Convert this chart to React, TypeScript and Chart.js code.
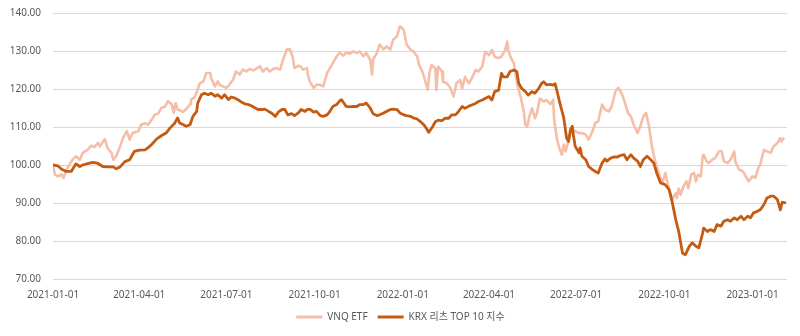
import React, { useEffect, useRef } from "react";
import { Chart, registerables } from "chart.js";

Chart.register(...registerables);

// Days since 2021-01-01
const vnqDays = [0,2,5,9,11,14,17,21,24,28,31,36,40,43,47,49,54,57,61,63,66,70,73,77,80,83,89,92,96,99,103,106,110,113,117,120,124,126,128,130,136,140,143,144,148,151,153,157,160,164,165,169,172,174,177,181,184,188,191,195,198,202,205,209,212,216,219,223,226,230,233,237,240,244,247,250,252,256,258,261,265,266,268,272,275,279,282,286,289,292,296,299,303,306,310,313,317,320,324,327,331,333,334,338,341,345,348,352,355,359,362,366,369,373,376,380,382,386,388,391,393,395,399,400,402,406,407,411,414,418,421,425,427,430,434,437,441,444,448,451,455,458,461,465,468,472,474,475,478,481,482,485,488,491,493,495,497,500,503,505,508,512,515,519,522,523,526,529,531,533,535,538,542,545,549,552,556,559,563,566,569,573,576,580,583,587,590,594,597,600,603,606,610,613,616,619,622,625,628,632,636,639,643,646,648,650,651,653,655,658,661,663,666,669,671,673,676,678,679,682,684,688,691,695,698,700,704,707,711,712,716,720,723,726,730,733,736,738,742,745,749,752,756,759,760,763];
const vnqValues = [99.6,97.5,97,97.5,96.6,98.8,100.1,101.6,102.3,101.4,103.2,104,105.1,104.7,105.8,104.9,106.8,104.4,103.2,101.4,102.3,104.9,107.1,108.9,106.7,108.4,108.9,110.6,111,110.6,111.9,113.2,113.6,115,115.4,116.8,115.9,113.7,116.3,114.6,114,115,116,117.2,117.9,119.8,121.4,122,124.2,124.2,122.9,120.7,122,121.1,120.7,120.3,121.1,122.5,124.6,123.8,125.1,124.6,125.3,124.9,125.3,126,124.6,125.5,124.6,125.3,125.5,125.1,127.7,130.4,130.5,128.6,125.5,126.1,126,125.1,125.5,123.8,122,120.3,121.1,121.1,120.7,124.2,125.5,126.8,128.6,129.5,128.8,129.6,129.3,129.9,129.5,129.9,128.6,129.5,127.7,123.8,127.7,129.5,131.7,130.4,131.2,130.4,133,133.9,136.5,135.6,131.7,130.4,129.9,128.6,126.4,124.2,122.5,119.8,124.5,126.3,125.4,119.7,125.9,124.6,121.9,121.5,120.6,118,121.5,122.4,120.2,123.2,121.5,122.8,125,124.6,125.9,129.8,128.9,130.3,128.5,128.1,128.5,130.3,132.5,130.3,128.1,126.8,125,120.6,118,114.5,110.5,110.1,112.7,114.9,112.3,113.6,117.5,116.7,117.1,116,117.2,111.9,106.7,104,102.7,105.4,103.6,106.7,109.3,108.9,108.4,108.4,108,106.7,108.9,111.1,111.5,115.9,114.6,114.1,115.4,119.4,120.3,118.5,116.3,113.7,112.8,110.6,108.4,110.2,112.8,113.7,110.2,104.9,101.4,97.9,95.3,97.9,93.5,90.9,91.8,92.6,91.3,93.8,92.2,94.4,95.7,93.9,97.5,97.9,95.7,97.5,97,102.3,102.7,101,100.5,101.4,101.8,103.6,103.6,101,100.5,101.4,103.6,101,98.8,98.3,97,95.7,97,96.6,99.2,100.1,104,103.6,103.2,104.9,105.8,107.1,106.2,107.2];

const krxDays = [0,5,9,14,19,20,24,28,31,38,42,47,52,57,63,66,70,75,80,85,90,96,99,103,108,113,118,122,127,130,132,136,139,143,146,150,151,155,158,162,165,169,172,176,179,183,186,190,193,197,200,204,207,211,214,218,221,225,228,232,235,239,242,245,249,252,256,259,263,265,268,272,275,279,282,286,289,292,296,299,301,303,306,310,313,317,320,324,327,331,334,338,341,345,348,352,355,359,362,366,369,373,376,380,383,387,390,392,396,399,402,406,409,413,416,420,423,427,430,434,437,441,444,448,451,455,458,461,465,468,470,474,477,481,484,486,489,493,496,500,503,507,510,512,515,519,522,524,526,529,533,536,538,540,542,543,545,549,550,552,556,559,563,566,569,573,576,578,582,585,589,592,596,599,603,606,610,613,616,620,623,627,630,634,639,643,646,650,653,657,660,664,667,671,674,678,679,683,686,690,693,697,700,704,707,711,714,718,721,725,728,731,735,738,742,745,749,752,756,759,761,765];
const krxValues = [100,99.8,98.9,98.3,98.3,98.7,100.3,99.6,100,100.5,100.7,100.4,99.6,99.5,99.5,99,99.5,100.9,101.4,103.6,103.9,104,104.5,105.4,106.8,107.7,108.4,109.7,111,112.4,111.1,110.6,110.2,110.6,112.8,114.1,116.3,118.5,118.9,118.5,118.9,118.1,118.5,117.6,118.5,117.2,117.9,117.6,117.2,116.5,116.1,115.9,115.6,115,114.6,114.6,114.7,114.1,113.7,112.8,113.9,114.6,114.6,113.2,113.5,113,113.7,114.6,114.1,114.6,114.7,113.9,114.1,113,112.8,113.2,114.1,115.4,115.9,116.8,117.2,116.5,115.4,115.3,115.4,115.4,115.9,115.9,116.3,115,113.5,113,113.2,113.7,114.1,114.6,114.7,114.6,113.7,113.2,113,112.8,112.4,112.1,111.5,110.6,109.5,108.6,110,111.4,111.8,111.7,112.3,112.3,113.2,113.2,114,115.4,114.9,115.5,115.8,116.2,116.7,117.1,117.5,118,117.1,119.3,119.7,124.1,123.2,123.2,124.6,125,124.6,121.5,120.2,119.3,118.4,119.3,118.9,120.2,121.5,121.9,121.1,121.2,121,121.4,119.4,116.3,112.4,107.1,106.2,109.3,110.2,108,104.9,103.2,104.5,102.3,101.4,99.6,98.8,98.3,97.9,100.5,101.6,101,101.8,102.1,102.1,102.5,102.7,101.4,102.7,101.8,101,99.6,101.4,102.3,101.6,100.5,97.9,95.3,94.8,93.5,90.5,85.5,82.5,76.8,76.4,78.6,79.5,78.6,78.2,82.1,83.4,82.5,83,82.5,84.3,83.9,85.2,85.6,85.2,86.1,85.6,86.5,85.6,86.5,86.1,87.4,87.8,88.2,89.6,91.3,91.8,91.8,90.9,88.2,90.2,90];

const xTickDays = [0, 90, 181, 273, 365, 455, 546, 638, 730];
const xTickLabels = ["2021-01-01","2021-04-01","2021-07-01","2021-10-01","2022-01-01","2022-04-01","2022-07-01","2022-10-01","2023-01-01"];

const seriesNames = ["VNQ ETF", "KRX 리츠 TOP 10 지수"];
const seriesColors = ["#F5BEA8", "#C55A11"];

const FONT = "'Noto Sans', 'Noto Sans CJK KR', sans-serif";

const legendShift = {
  id: "legendShift",
  afterLayout(chart: any) {
    const l = chart.legend;
    if (l) {
      l.left += 7;
      l.right += 7;
    }
  },
};

export default function App() {
  const ref = useRef<HTMLCanvasElement | null>(null);
  useEffect(() => {
    if (!ref.current) return;
    const chart = new Chart(ref.current, {
      type: "line",
      data: {
        datasets: [
          {
            label: seriesNames[0],
            data: vnqDays.map((d, i) => ({ x: d, y: vnqValues[i] })),
            borderColor: seriesColors[0],
            backgroundColor: seriesColors[0],
            borderWidth: 2.6,
            pointRadius: 0,
            tension: 0,
            borderJoinStyle: "round",
            order: 2,
          },
          {
            label: seriesNames[1],
            data: krxDays.map((d, i) => ({ x: d, y: krxValues[i] })),
            borderColor: seriesColors[1],
            backgroundColor: seriesColors[1],
            borderWidth: 2.8,
            pointRadius: 0,
            tension: 0,
            borderJoinStyle: "round",
            order: 1,
          },
        ],
      },
      plugins: [legendShift],
      options: {
        animation: false,
        responsive: true,
        maintainAspectRatio: false,
        layout: { padding: { left: 0, right: 13, top: 13, bottom: 4 } },
        scales: {
          x: {
            type: "linear",
            min: 0,
            max: 766,
            grid: { display: false, drawTicks: false },
            border: { display: false },
            afterBuildTicks: (scale: any) => {
              scale.ticks = xTickDays.map((v) => ({ value: v }));
            },
            afterFit: (scale: any) => {
              scale.height = 23;
            },
            ticks: {
              autoSkip: false,
              maxRotation: 0,
              padding: 10,
              color: "#595959",
              font: { family: FONT, size: 10 },
              callback: (v: any) => {
                const i = xTickDays.indexOf(Number(v));
                return i >= 0 ? xTickLabels[i] : "";
              },
            },
          },
          y: {
            min: 70,
            max: 140,
            grid: { color: "#D9D9D9", lineWidth: 1, drawTicks: false },
            border: { display: false },
            afterFit: (scale: any) => {
              scale.width = 53;
              scale.paddingTop = 0;
              scale.paddingBottom = 0;
            },
            ticks: {
              stepSize: 10,
              padding: 12,
              color: "#595959",
              font: { family: FONT, size: 10 },
              callback: (v: any) => Number(v).toFixed(2),
            },
          },
        },
        plugins: {
          tooltip: { enabled: false },
          legend: {
            position: "bottom",
            labels: {
              boxWidth: 26,
              boxHeight: 3,
              padding: 10,
              color: "#595959",
              font: { family: FONT, size: 10 },
              generateLabels: () =>
                seriesNames.map((n, i) => ({
                  text: n,
                  fillStyle: seriesColors[i],
                  strokeStyle: seriesColors[i],
                  lineWidth: 0,
                  hidden: false,
                  datasetIndex: i,
                  fontColor: "#595959",
                })),
            },
          },
        },
      },
    } as any);
    return () => chart.destroy();
  }, []);
  return (
    <div style={{ position: "absolute", left: 0, top: 0, width: 800, height: 336, background: "#fff" }}>
      <canvas ref={ref} />
    </div>
  );
}
